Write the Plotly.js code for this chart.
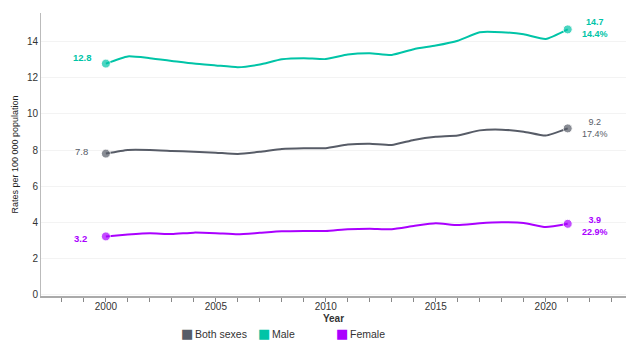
<!DOCTYPE html>
<html>
<head>
<meta charset="utf-8">
<script src="https://cdn.plot.ly/plotly-3.0.1.min.js"></script>
<style>html,body{margin:0;padding:0;background:#fff;}#chart{width:626px;height:343px;}</style>
</head>
<body>
<div id="chart"></div>
<script>
const years = [2000,2001,2002,2003,2004,2005,2006,2007,2008,2009,2010,2011,2012,2013,2014,2015,2016,2017,2018,2019,2020,2021];
const bothSexes = [7.8,8.0,8.0,7.95,7.9,7.85,7.78,7.9,8.06,8.1,8.1,8.3,8.35,8.28,8.56,8.74,8.81,9.09,9.13,9.02,8.8,9.2];
const male = [12.8,13.2,13.1,12.95,12.8,12.7,12.6,12.75,13.04,13.1,13.05,13.3,13.37,13.28,13.6,13.8,14.07,14.54,14.54,14.43,14.17,14.7];
const female = [3.2,3.3,3.37,3.33,3.41,3.38,3.32,3.4,3.48,3.5,3.5,3.6,3.63,3.6,3.78,3.93,3.83,3.93,3.98,3.95,3.72,3.9];
const seriesNames = ["Both sexes","Male","Female"];
const changePct = ["17.4%","14.4%","22.9%"];

const colors = ["#575c67","#00c4a7","#aa00ff"];
const allData = [bothSexes, male, female];
const n = years.length;
const msize = years.map((y,i)=> (i===0||i===n-1) ? 9 : 0);
const FONT = 'Liberation Sans, Arial, sans-serif';

const traces = [];
allData.forEach((d,k)=>{
  traces.push({x:years,y:d,type:'scatter',mode:'lines+markers',
    line:{color:colors[k],width:2,shape:'spline',smoothing:0.5},
    marker:{color:colors[k],size:msize},showlegend:false,hoverinfo:'x+y',name:seriesNames[k]});
});

const annotations = [];
const startShift = [[-24,2],[-23,6],[-25,-2]];
const endYShift = [0,1,-2];
allData.forEach((d,k)=>{
  const bold = k!==0;
  const f = {family:FONT,size:9,color:colors[k],weight: bold?700:400};
  annotations.push({x:years[0],y:d[0],text:d[0].toFixed(1),showarrow:false,xshift:startShift[k][0],yshift:startShift[k][1],
    font:{family:FONT,size:9.5,color:colors[k],weight: bold?700:400}});
  annotations.push({x:years[n-1],y:d[n-1],text:d[n-1].toFixed(1)+'<br>'+changePct[k],showarrow:false,
    xshift:27,yshift:endYShift[k],font:f,align:'center'});
});
// legend built from series names/colors
const legX = [0.2359,0.3675,0.5004];
seriesNames.forEach((nm,k)=>{
  annotations.push({xref:'paper',yref:'paper',x:legX[k],y:-0.134,xanchor:'left',yanchor:'middle',showarrow:false,
    text:'■',font:{family:'DejaVu Sans',size:13,color:colors[k]}});
  annotations.push({xref:'paper',yref:'paper',x:legX[k],y:-0.134,xshift:14,xanchor:'left',yanchor:'middle',showarrow:false,
    text:nm,font:{family:FONT,size:10.5,color:'#333'}});
});

const layout = {
  width:626,height:343,
  margin:{l:41,r:0,t:13,b:47},
  paper_bgcolor:'#fff',plot_bgcolor:'#fff',
  font:{family:FONT,size:10,color:'#333'},
  xaxis:{range:[1997.05,2023.65],tickmode:'array',tickvals:[2000,2005,2010,2015,2020],
    ticktext:['2000','2005','2010','2015','2020'],ticks:'',showgrid:false,zeroline:false,automargin:false,
    showline:true,linecolor:'#aaaaaa',linewidth:2,
    minor:{dtick:1,tick0:1997,ticks:'outside',ticklen:4,tickcolor:'#888',tickwidth:1,showgrid:false},
    tickfont:{size:10,color:'#333'},
    title:{text:'Year',font:{size:10,color:'#333',weight:700},standoff:4}},
  yaxis:{range:[-0.11,15.61],tickvals:[0,2,4,6,8,10,12,14],showgrid:true,gridcolor:'#f3f3f3',automargin:false,
    zeroline:false,showline:true,linecolor:'#bbbbbb',linewidth:1,ticks:'',
    tickfont:{size:10,color:'#333'},
    title:{text:'Rates per 100 000 population',font:{size:9,color:'#222'},standoff:6}},
  annotations:annotations,
  showlegend:false
};
Plotly.newPlot('chart',traces,layout,{displayModeBar:false,staticPlot:true});
</script>
</body>
</html>
